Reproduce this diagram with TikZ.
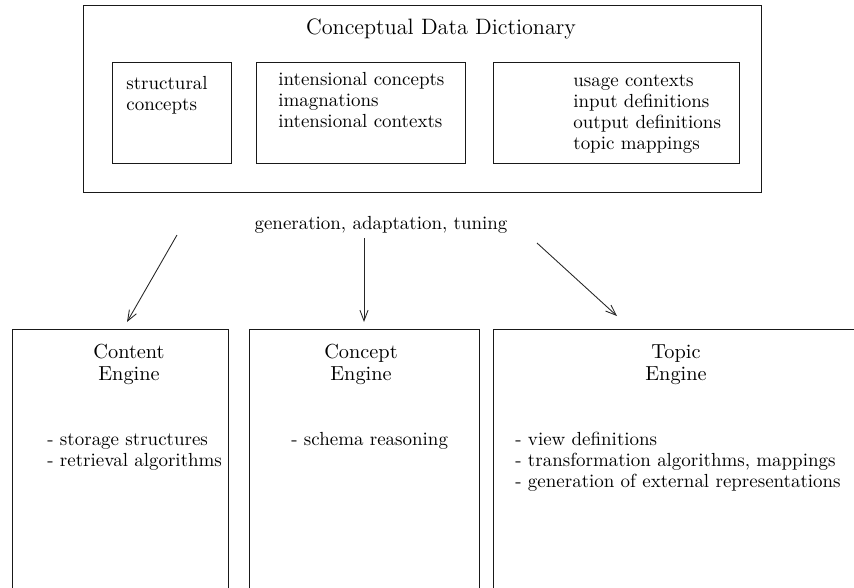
\documentclass[tikz,border=0pt]{standalone}
\usetikzlibrary{arrows.meta,fit}
\begin{document}
\begin{tikzpicture}[x=0.517pt,y=-0.517pt,
  frame/.style={draw=black!90, line width=0.5pt, inner sep=0pt},
  txt/.style={inner sep=0pt, anchor=north west, align=left,
    font=\fontsize{9.8}{10.9}\selectfont},
  title/.style={inner sep=0pt, anchor=north, align=center,
    font=\fontsize{10.5}{11.4}\selectfont},
  flow/.style={draw=black!85, line width=0.45pt,
    -{Straight Barb[length=5.5pt,width=4.2pt]}}]
\useasboundingbox (0,0) rectangle (854,588);
\clip (0,0) rectangle (854,588);

% dictionary with its three parts
\node[frame, fit={(83,5) (761,192)}] (dict) {};
\node[inner sep=0pt, anchor=base, font=\fontsize{11.5}{13}\selectfont] (dicttitle) at (441,34) {Conceptual Data Dictionary};
\node[frame, fit={(112,62) (231,163)}] (structbox) {};
\node[frame, fit={(256,62) (465,163)}] (intbox) {};
\node[frame, fit={(493,62) (739,163)}] (usebox) {};
\node[txt] (structtxt) at (126,74.5) {\strut structural\\concepts};
\node[txt] (inttxt) at (278,70) {\strut intensional concepts\\imagnations\\intensional contexts};
\node[txt] (usetxt) at (573,71) {\strut usage contexts\\input definitions\\output definitions\\topic mappings};

% label over the three arrows
\node[inner sep=0pt, anchor=base, font=\fontsize{9.8}{12}\selectfont] (gen) at (381,229) {generation, adaptation, tuning};

% the three engines
\node[frame, fit={(12,329) (228,620)}] (content) {};
\node[frame, fit={(249,329) (479,620)}] (concept) {};
\node[frame, fit={(493,329) (880,620)}] (topic) {};
\node[title] (contenttitle) at (129,342.6) {\strut Content\\Engine};
\node[title] (concepttitle) at (361,342.6) {\strut Concept\\Engine};
\node[title] (topictitle) at (676,342.6) {\strut Topic\\Engine};
\node[txt] (contentlist) at (47,430.2) {\strut - storage structures\\- retrieval algorithms};
\node[txt] (conceptlist) at (291,430.2) {\strut - schema reasoning};
\node[txt] (topiclist) at (515,430.2) {\strut - view definitions\\- transformation algorithms, mappings\\- generation of external representations};

% arrows
\coordinate (s1) at (177,235);
\coordinate (e1) at (127,322);
\coordinate (s2) at (364,238);
\coordinate (e2) at (364,322);
\coordinate (s3) at (537,243);
\coordinate (e3) at (617,316);
\draw[flow] (s1) -- (e1);
\draw[flow] (s2) -- (e2);
\draw[flow] (s3) -- (e3);
\end{tikzpicture}
\end{document}
